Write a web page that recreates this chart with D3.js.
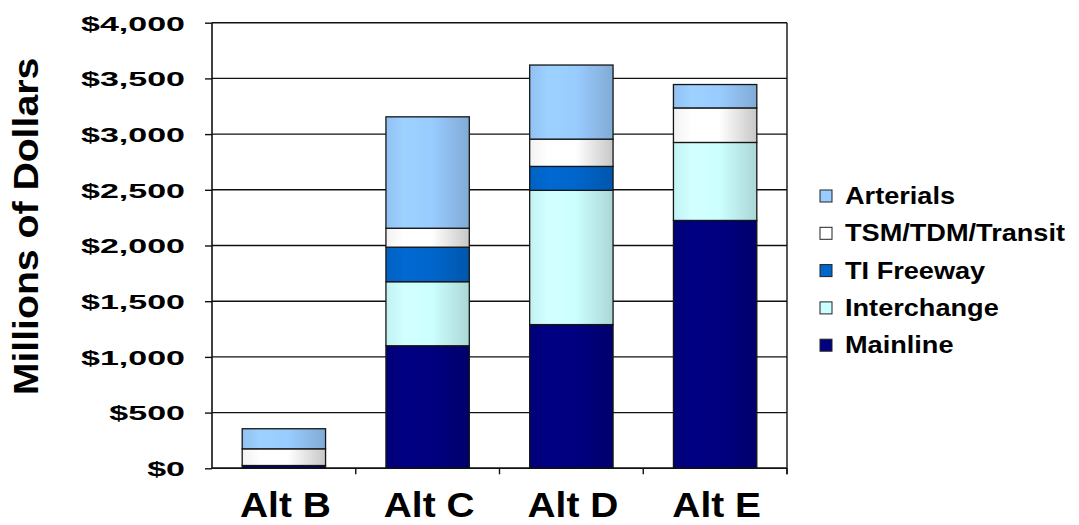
<!DOCTYPE html>
<html>
<head>
<meta charset="utf-8">
<script src="https://cdn.jsdelivr.net/npm/d3@7"></script>
<style>
  html, body { margin: 0; padding: 0; background: #ffffff; }
  svg { display: block; }
  text { font-family: "Liberation Sans", Arial, sans-serif; font-weight: bold; fill: #000; }
</style>
</head>
<body>
<svg id="chart" width="1079" height="525"></svg>
<script>
// Cost by alternative, in millions of dollars
const categories = ["Alt B", "Alt C", "Alt D", "Alt E"];
const seriesNames = ["Mainline", "Interchange", "TI Freeway", "TSM/TDM/Transit", "Arterials"];
const mainline    = [25, 1100, 1290, 2225];
const interchange = [0, 575, 1205, 700];
const tiFreeway   = [0, 310, 215, 0];
const tsmTransit  = [150, 170, 245, 310];
const arterials   = [180, 1000, 665, 210];
const yTicks = [0, 500, 1000, 1500, 2000, 2500, 3000, 3500, 4000];
const legendOrder = ["Arterials", "TSM/TDM/Transit", "TI Freeway", "Interchange", "Mainline"];

const seriesValues = {
  "Mainline": mainline,
  "Interchange": interchange,
  "TI Freeway": tiFreeway,
  "TSM/TDM/Transit": tsmTransit,
  "Arterials": arterials
};
const colors = {
  "Mainline": "#000080",
  "Interchange": "#ccffff",
  "TI Freeway": "#0066cc",
  "TSM/TDM/Transit": "#ffffff",
  "Arterials": "#99ccff"
};

const svg = d3.select("#chart");
const plot = { left: 212, right: 787, top: 22.7, bottom: 468.3 };

const x = d3.scaleBand()
  .domain(categories)
  .range([plot.left, plot.right])
  .paddingInner(0.42)
  .paddingOuter(0.21);

const y = d3.scaleLinear()
  .domain([0, 4000])
  .range([plot.bottom, plot.top]);

// Horizontal shading across each bar segment
const defs = svg.append("defs");
seriesNames.forEach((name, i) => {
  const base = d3.color(colors[name]);
  const g = defs.append("linearGradient")
    .attr("id", "grad" + i)
    .attr("x1", 0).attr("x2", 1).attr("y1", 0).attr("y2", 0);
  const shade = name === "TSM/TDM/Transit" ? 0.78 : 0.84;
  g.append("stop").attr("offset", "0%").attr("stop-color", base.darker(0.15));
  g.append("stop").attr("offset", "22%").attr("stop-color", base.brighter(0.08));
  g.append("stop").attr("offset", "55%").attr("stop-color", base);
  g.append("stop").attr("offset", "100%").attr("stop-color",
    d3.rgb(base.r * shade, base.g * shade, base.b * shade));
});

// Gridlines
svg.append("g")
  .selectAll("line")
  .data(yTicks)
  .join("line")
  .attr("x1", plot.left).attr("x2", plot.right)
  .attr("y1", d => y(d)).attr("y2", d => y(d))
  .attr("stroke", "#111").attr("stroke-width", 1.4);

// Right border of the plot area
svg.append("line")
  .attr("x1", plot.right).attr("x2", plot.right)
  .attr("y1", plot.top).attr("y2", plot.bottom + 6)
  .attr("stroke", "#111").attr("stroke-width", 1.4);

// Stacked bars
const table = categories.map((c, i) => {
  const row = { category: c };
  seriesNames.forEach(s => { row[s] = seriesValues[s][i]; });
  return row;
});
const stacked = d3.stack().keys(seriesNames)(table);

svg.append("g")
  .selectAll("g")
  .data(stacked)
  .join("g")
  .attr("fill", (d, i) => `url(#grad${i})`)
  .selectAll("rect")
  .data(d => d.filter(p => p[1] - p[0] > 0))
  .join("rect")
  .attr("x", d => x(d.data.category))
  .attr("width", x.bandwidth())
  .attr("y", d => y(d[1]))
  .attr("height", d => y(d[0]) - y(d[1]))
  .attr("stroke", "#151515")
  .attr("stroke-width", 1.3);

// Y axis
const yAxis = svg.append("g")
  .attr("transform", `translate(${plot.left},0)`)
  .call(d3.axisLeft(y).tickValues(yTicks).tickFormat(d3.format("$,")).tickSize(7).tickPadding(0));
yAxis.select(".domain").attr("stroke", "#111").attr("stroke-width", 1.6)
  .attr("d", `M0,${plot.top}V${plot.bottom}`);
yAxis.selectAll(".tick line").attr("stroke", "#111").attr("stroke-width", 1.4);
yAxis.selectAll(".tick text")
  .attr("x", 0)
  .attr("dy", "0.35em")
  .attr("transform", "translate(-27,0) scale(1.62,1)")
  .style("font-size", "21px")
  .style("font-family", "'Liberation Sans', Arial, sans-serif")
  .style("font-weight", "bold");

// X axis: boundary ticks between categories
const step = x.step();
const edges = categories.map(c => x(c) - step * x.paddingInner() / 2).slice(1).concat([plot.right]);
svg.append("line")
  .attr("x1", plot.left).attr("x2", plot.right)
  .attr("y1", plot.bottom).attr("y2", plot.bottom)
  .attr("stroke", "#111").attr("stroke-width", 1.6);
svg.append("g")
  .selectAll("line")
  .data(edges)
  .join("line")
  .attr("x1", d => d).attr("x2", d => d)
  .attr("y1", plot.bottom).attr("y2", plot.bottom + 6)
  .attr("stroke", "#111").attr("stroke-width", 1.4);

// Category labels
svg.append("g")
  .selectAll("text")
  .data(categories)
  .join("text")
  .attr("text-anchor", "middle")
  .attr("transform", d => `translate(${x(d) + x.bandwidth() / 2 + 1.5},517) scale(1.08,1)`)
  .style("font-size", "36px")
  .text(d => d);

// Axis title
svg.append("text")
  .attr("text-anchor", "middle")
  .attr("transform", "translate(38,226.5) rotate(-90) scale(1.12,1)")
  .style("font-size", "35px")
  .text("Millions of Dollars");

// Legend
const legend = svg.append("g")
  .selectAll("g")
  .data(legendOrder)
  .join("g")
  .attr("transform", (d, i) => `translate(0,${204 + i * 37.3})`);
legend.append("rect")
  .attr("x", 820).attr("y", -14)
  .attr("width", 12).attr("height", 12)
  .attr("fill", d => colors[d])
  .attr("stroke", "#222").attr("stroke-width", 1);
legend.append("text")
  .attr("transform", "translate(845,0) scale(1.18,1)")
  .style("font-size", "23px")
  .text(d => d);
</script>
</body>
</html>
